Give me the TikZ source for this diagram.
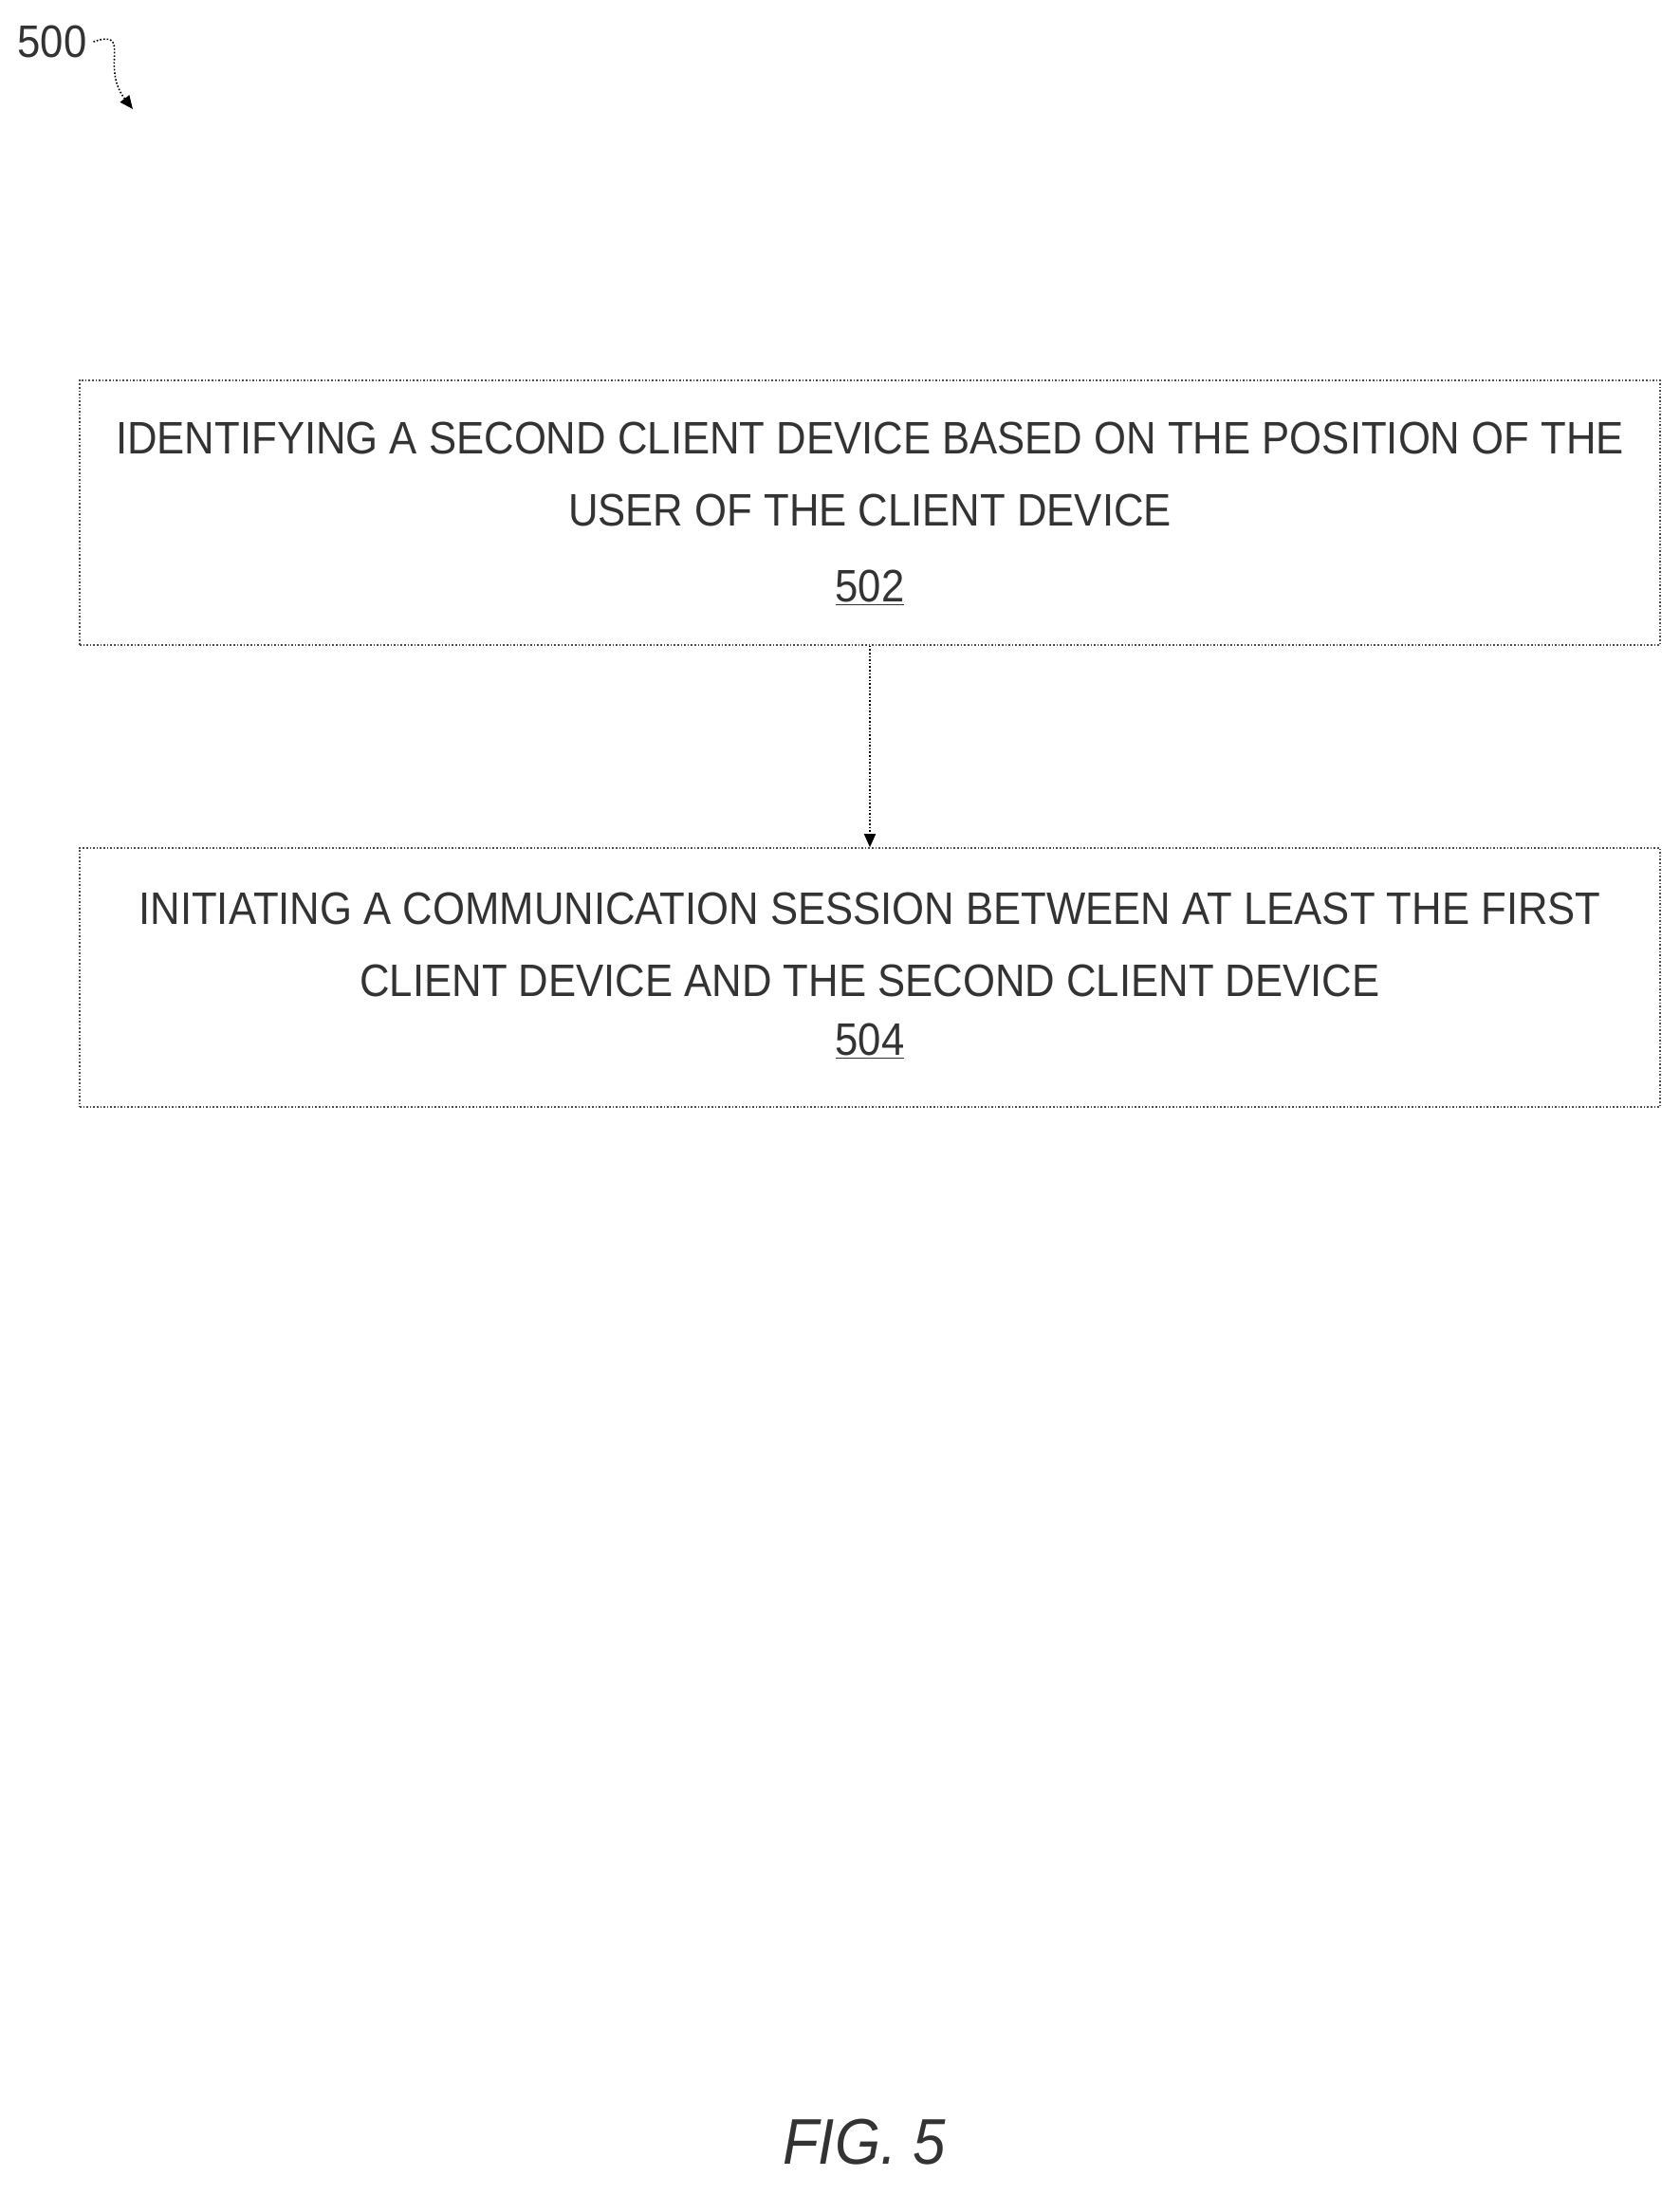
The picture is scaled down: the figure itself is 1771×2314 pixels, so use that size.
\documentclass[tikz,border=0pt]{standalone}
\usepackage{fontspec}
\setmainfont{Liberation Sans}
\newfontfamily\cf[FakeStretch=0.91]{Liberation Sans}
\usetikzlibrary{arrows.meta,decorations.pathmorphing}
\begin{document}
\begin{tikzpicture}[x=0.5pt,y=-0.5pt,
  box/.style={draw=black!70,densely dotted,line width=0.8pt,minimum width=833pt,inner sep=0pt},
  txt/.style={font=\cf\fontsize{24}{38}\selectfont,align=center,text=black!80}]
\useasboundingbox (0,0) rectangle (1771,2314);
\node[box,minimum height=139.5pt] (b1) at (917,540.5) {};
\node[txt] (t1) at (917,500) {IDENTIFYING A SECOND CLIENT DEVICE BASED ON THE POSITION OF THE\\USER OF THE CLIENT DEVICE};
\node[txt] (n1) at (917,620) {\underline{502}};
\node[box,minimum height=136.5pt] (b2) at (917,1030.5) {};
\node[txt] (t2) at (917,996) {INITIATING A COMMUNICATION SESSION BETWEEN AT LEAST THE FIRST\\CLIENT DEVICE AND THE SECOND CLIENT DEVICE};
\node[txt] (n2) at (917,1098) {\underline{504}};
\draw[densely dotted,line width=0.8pt,-{Triangle[length=7pt,width=6pt]}] (b1.south) -- (b2.north);
\node[txt] (l500) at (55,44) {500};
\coordinate (ae) at (140,115);
\draw[densely dotted,line width=0.8pt,-{Triangle[length=7pt,width=6pt]}] (l500.east) .. controls (140,30) and (105,70) .. (ae);
\node[font=\cf\itshape\fontsize{34}{40}\selectfont,text=black!80] (fig) at (911,2258) {FIG. 5};
\end{tikzpicture}
\end{document}
